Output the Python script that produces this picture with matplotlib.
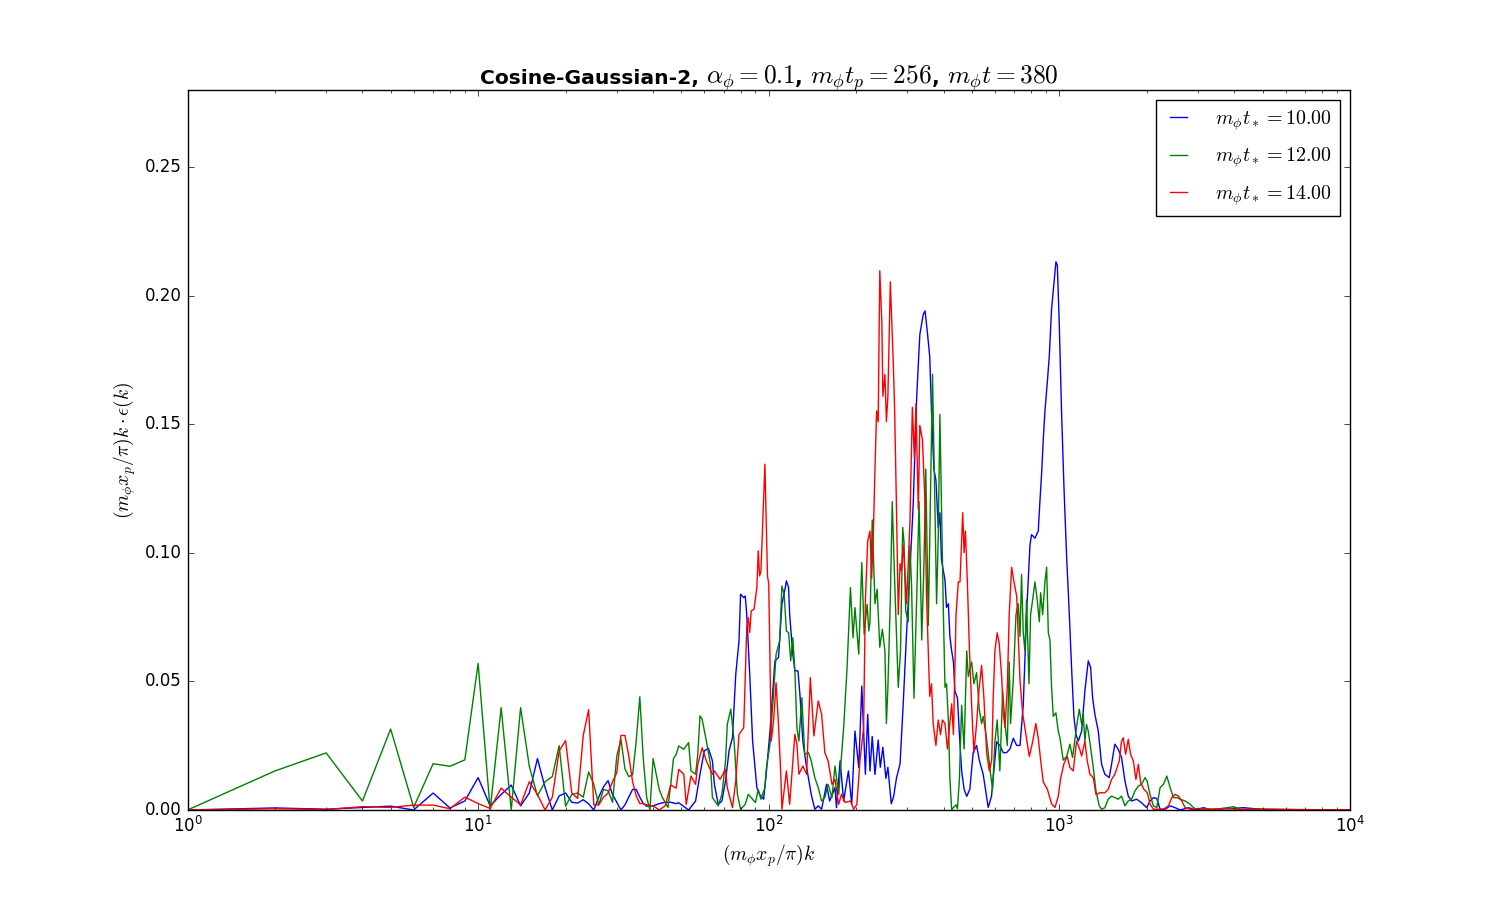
import matplotlib
matplotlib.use("Agg")
import matplotlib.pyplot as plt

plt.style.use('classic')

# ---------------- data ----------------
k_blue = [1, 2, 3, 4, 5, 6, 7, 8, 9, 10, 11, 12, 13, 14, 15, 16, 17, 18, 19, 20, 21, 22, 23, 24, 25,
          26, 27, 28, 29, 30, 31, 32, 33, 34, 35, 36, 37, 38, 40, 42, 44, 46, 48,
          49, 53, 56, 58, 60, 62, 64, 65, 67, 69, 71, 73, 75, 77, 79, 80, 82, 83, 84, 86, 88, 91, 93,
          96, 98, 101, 105, 108, 109, 111, 114, 115, 117, 118, 121, 123, 126, 128, 131, 135, 140, 144,
          148, 152, 158, 162, 169, 171, 176, 181, 188, 193, 198, 204, 209, 215, 219,
          223, 227, 232, 238, 242, 247, 253, 257, 264, 269, 275, 283, 290, 298, 306, 314, 323, 331, 340,
          345, 351, 358, 363, 370, 376, 383, 388, 393, 404, 409, 415, 420, 426, 432, 437, 446, 453, 461,
          470, 480,
          492, 505, 519, 530, 547, 559, 569, 584, 595, 608, 624, 641, 658, 676, 694, 713, 732, 751, 771,
          792, 802, 824, 846, 857, 869, 880, 892, 909, 923, 940, 958, 973, 984, 999, 1018, 1037, 1059,
          1082, 1102, 1122,
          1140, 1162, 1193, 1224, 1257, 1281, 1301, 1325, 1361, 1397, 1434, 1484, 1512, 1552, 1594, 1637,
          1681, 1726, 1772, 1844, 1919, 1997, 2051, 2106, 2163, 2221, 2311, 2405, 2502, 2604, 2782, 2934,
          3135, 3307, 4311, 5000, 7000, 10000]
v_blue = [0.0, 0.0008, 0.0003, 0.001, 0.0015, 0.0, 0.0066, 0.0008, 0.0035, 0.0126, 0.0016, 0.006, 0.0097,
          0.0016, 0.0066, 0.020, 0.0087, 0.0, 0.0055, 0.0066, 0.003, 0.0027, 0.004, 0.0024, 0.0,
          0.005, 0.009, 0.0114, 0.006, 0.003, 0.0, 0.002, 0.005, 0.008, 0.008, 0.005, 0.0025, 0.0015, 0.0016,
          0.0025, 0.003, 0.003, 0.0025,
          0.0028, 0.0, 0.0035, 0.0139, 0.0230, 0.0240, 0.0191, 0.0100, 0.0022, 0.0035, 0.0113, 0.0230, 0.0281,
          0.0528, 0.0657, 0.0839, 0.0826, 0.0832, 0.0761, 0.0528, 0.0268, 0.0087, 0.0061,
          0.0042, 0.0139, 0.0307, 0.0580, 0.0593, 0.0657, 0.0800, 0.0865, 0.0891, 0.0865, 0.0761, 0.0606, 0.0541,
          0.0541, 0.0450, 0.0268, 0.0165, 0.0061, 0.0003,
          0.0016, 0.0003, 0.0100, 0.0035, 0.0087, 0.0009, 0.0191, 0.0035, 0.0152, 0.0022, 0.0307, 0.0165, 0.0482,
          0.0139, 0.0372,
          0.0152, 0.0286, 0.0138, 0.0272, 0.0166, 0.0244, 0.0123, 0.0166, 0.0024, 0.0053, 0.0123, 0.0180, 0.0407,
          0.0689, 0.0930, 0.1185, 0.1609, 0.1849, 0.1927,
          0.1941, 0.1863, 0.1764, 0.1552, 0.1326, 0.1283, 0.1099, 0.1156, 0.0972, 0.0894, 0.0788, 0.0802, 0.0675,
          0.0619, 0.0576, 0.0463, 0.0435, 0.0293, 0.0152,
          0.0081, 0.0053,
          0.0081, 0.0223, 0.0251, 0.0194, 0.0138, 0.0067, 0.0010, 0.0053, 0.0152, 0.0265, 0.0251, 0.0223, 0.0223,
          0.0237, 0.0279, 0.0251, 0.0251, 0.0407, 0.0760,
          0.1029, 0.1071, 0.1057, 0.1085, 0.1199, 0.1312, 0.1439, 0.1552, 0.1665, 0.1764, 0.1948, 0.2047, 0.2132,
          0.2118, 0.1892, 0.1538, 0.1255, 0.0986,
          0.0760, 0.0548, 0.0364,
          0.0294, 0.0268, 0.0307, 0.0463, 0.0580, 0.0554, 0.0437, 0.0372, 0.0307, 0.0178, 0.0139, 0.0126, 0.0178,
          0.0256, 0.0236, 0.0204,
          0.0113, 0.0054, 0.0035, 0.0042, 0.0028, 0.0009, 0.0035, 0.0048, 0.0045, 0.0003, 0.0003, 0.0016, 0.0009,
          0.0, 0.0009, 0.0001,
          0.0009, 0.0001, 0.0009, 0.0002, 0.0001, 0.0]

k_green = [1, 2, 3, 4, 5, 6, 7, 8, 9, 10, 11, 12, 13, 14, 15, 16, 17, 18, 19, 20, 21, 22, 23, 24, 25,
           26, 27, 28, 29, 30, 31, 32, 33, 34, 35, 36, 37, 38, 39, 40, 41, 42, 43, 44, 45, 46, 47, 48,
           49, 51, 53, 54, 56, 57, 58, 59, 61, 63, 64, 67, 69, 71, 72, 74, 76, 78, 80, 83, 85, 87, 90,
           92, 94, 97, 98, 101, 104, 106, 109, 111, 113, 115, 117, 119, 121, 123, 125, 127, 130, 133,
           137, 140, 144, 148, 152, 156, 160, 165, 169, 174, 176, 181, 186, 191, 195, 198, 204, 209,
           213, 218, 221,
           223, 227, 232, 236, 241, 246, 251, 254, 257, 262, 266, 271, 279, 284, 289, 292, 296, 302, 306,
           310, 316, 323, 329, 336, 342, 347, 354, 358, 366, 373, 378, 383, 388, 393, 399, 404, 409, 415,
           420, 426, 432, 441, 446, 453, 461, 470, 480, 486,
           492, 499, 508, 519, 530, 540, 547, 559, 569, 580, 589, 600, 611, 624, 638, 650, 662, 672, 679,
           694, 709, 722, 732, 741, 751, 761, 771, 786, 796, 809, 824, 839, 853, 862, 876, 892, 904, 916,
           928, 940, 953, 973, 991, 1005, 1031, 1059,
           1087, 1110, 1129, 1149, 1171, 1193, 1208, 1224, 1240, 1257, 1281, 1308, 1336, 1372, 1397, 1434,
           1472, 1512, 1552, 1594, 1637, 1681, 1726, 1772, 1820, 1869, 1919, 1971, 2003, 2051, 2106, 2163,
           2221, 2281, 2342, 2405, 2469, 2536, 2604, 2709, 2819, 2895, 2973, 3135, 3500, 3982, 4199, 4790,
           6000, 8000, 10000]
v_green = [0.0, 0.0152, 0.0222, 0.0035, 0.0315, 0.001, 0.018, 0.017, 0.0195, 0.057, 0.0, 0.0398, 0.0,
           0.0398, 0.017, 0.0055, 0.011, 0.013, 0.025, 0.0015, 0.006, 0.0066, 0.005, 0.0148, 0.010,
           0.002, 0.008, 0.0075, 0.003, 0.021, 0.0275, 0.016, 0.013, 0.0137, 0.027, 0.044, 0.02, 0.005, 0.0,
           0.020, 0.014, 0.008, 0.005, 0.003, 0.001, 0.010, 0.020, 0.0215,
           0.0249, 0.0236, 0.0262, 0.0152, 0.0139, 0.0217, 0.0366, 0.0353, 0.0268, 0.0178, 0.0048, 0.0016,
           0.0061, 0.0191, 0.0333, 0.0392, 0.0268, 0.0061, 0.0003, 0.0022, 0.0061, 0.0048, 0.0029,
           0.0080, 0.0042, 0.0087, 0.0158, 0.0256, 0.0463, 0.0606, 0.0657, 0.0871, 0.0839, 0.0696, 0.0690,
           0.0580, 0.0670, 0.0541, 0.0320, 0.0268, 0.0437, 0.0217,
           0.0223, 0.0191, 0.0126, 0.0087, 0.0035, 0.0048, 0.0100, 0.0048, 0.0171, 0.0061, 0.0139, 0.0320,
           0.0554, 0.0865, 0.0670, 0.0787, 0.0606, 0.0962,
           0.0683, 0.0800, 0.0696,
           0.0732, 0.1128, 0.0802, 0.0859, 0.0633, 0.0703, 0.0619, 0.0336, 0.0477, 0.0817, 0.1199, 0.0901,
           0.0477, 0.0619, 0.1099, 0.1043, 0.0774, 0.0732, 0.1029,
           0.0873, 0.0435, 0.0831, 0.1199, 0.0661, 0.0958, 0.1326, 0.0718, 0.1043, 0.1694, 0.1185, 0.0802,
           0.1057, 0.1538, 0.1185, 0.0760, 0.0477, 0.0491, 0.0350,
           0.0123, 0.0, 0.001, 0.002, 0.0005, 0.0123, 0.0407, 0.0237, 0.0619, 0.0519,
           0.0548, 0.0576, 0.0491, 0.0534, 0.0392, 0.0336, 0.0364, 0.0293, 0.0223, 0.0138, 0.0081, 0.0265,
           0.0350, 0.0152, 0.0463, 0.0336, 0.0251, 0.0576, 0.0336,
           0.0505, 0.0760, 0.0802, 0.0675, 0.0916, 0.0689, 0.0619, 0.0817, 0.0491, 0.0760, 0.0817, 0.0887,
           0.0817, 0.0732, 0.0845, 0.0760, 0.0887, 0.0944, 0.0689,
           0.0661, 0.0477, 0.0364, 0.0378, 0.0307, 0.0279, 0.0194, 0.0208,
           0.0256, 0.0204, 0.0268, 0.0333, 0.0392, 0.0333, 0.0372, 0.0268, 0.0333, 0.0307, 0.0242, 0.0165,
           0.0074, 0.0016, 0.0003, 0.0009,
           0.0042, 0.0054, 0.0048, 0.0042, 0.0054, 0.0016, 0.0035, 0.0042, 0.0074, 0.0093, 0.0100, 0.0126,
           0.0113, 0.0061, 0.0016, 0.0009,
           0.0087, 0.0100, 0.0132, 0.0087, 0.0048, 0.0048, 0.0042, 0.0035, 0.0022, 0.0009, 0.0003, 0.0003,
           0.0003, 0.0013, 0.0001, 0.0004,
           0.0002, 0.0001, 0.0]

k_red = [1, 2, 3, 4, 5, 6, 7, 8, 9, 10, 11, 12, 13, 14, 15, 16, 17, 18, 19, 20, 21, 22, 23, 24, 25,
         26, 27, 28, 29, 30, 31, 32, 33, 34, 35, 36, 37, 38, 40, 42, 44, 46, 48,
         49, 51, 52, 54, 56, 57, 59, 61, 64, 65, 68, 71, 72, 75, 77, 79, 82, 84, 85, 86, 87, 89, 91,
         92, 93, 94, 97, 99, 100, 102, 104, 106, 108, 110, 111, 115, 118, 123, 125, 127, 131, 135, 139,
         143, 148, 152, 156, 160, 165, 169, 174, 178, 183, 191, 196, 201, 206, 212, 215, 219,
         223, 226, 229, 232, 235, 238, 241, 245, 247, 251, 254, 257, 262, 268, 271, 275, 279, 283, 286,
         290, 294, 298, 306, 312, 317, 321, 327, 331, 338, 345, 349, 354, 358, 363, 368, 376, 383, 390,
         396, 404, 412, 420, 426, 432, 441, 449, 455, 465, 470, 475, 482, 490, 499, 508,
         519, 530, 540, 550, 562, 574, 585, 592, 600, 611, 621, 633, 641, 650, 662, 672, 685, 698, 713,
         732, 747, 767, 788, 809, 830, 846, 862, 880, 909, 940, 966, 991, 1010, 1037, 1064,
         1087, 1116, 1146, 1171, 1193, 1224, 1247, 1274, 1308, 1336, 1379, 1434, 1472, 1512, 1552, 1607,
         1637, 1659, 1690, 1726, 1758, 1796, 1834, 1869, 1904, 1955, 2008, 2051, 2106, 2192, 2281, 2373,
         2437, 2502, 2569, 2638, 2709, 2819, 3053, 3307, 3677, 4089, 6000, 8000, 10000]
v_red = [0.0, 0.0005, 0.0002, 0.0013, 0.001, 0.0019, 0.0019, 0.0005, 0.005, 0.0025, 0.0006, 0.0085, 0.005,
         0.002, 0.011, 0.006, 0.0, 0.005, 0.023, 0.027, 0.0066, 0.0045, 0.029, 0.039, 0.002,
         0.002, 0.005, 0.0066, 0.011, 0.0145, 0.029, 0.029, 0.021, 0.011, 0.0055, 0.0025, 0.0025, 0.002, 0.0016,
         0.0, 0.0016, 0.0097, 0.0085,
         0.0158, 0.0139, 0.0022, 0.0132, 0.0100, 0.0178, 0.0242, 0.0191, 0.0139, 0.0152, 0.0119, 0.0158,
         0.0087, 0.0009, 0.0113, 0.0294, 0.0320, 0.0709, 0.0748, 0.0690, 0.0774, 0.0781, 0.0865,
         0.1008, 0.0910, 0.0930, 0.1345, 0.0910, 0.0878, 0.0268, 0.0353, 0.0495, 0.0333, 0.0139, 0.0003,
         0.0152, 0.0022, 0.0294, 0.0256, 0.0139, 0.0171, 0.0139, 0.0515,
         0.0288, 0.0424, 0.0372, 0.0223, 0.0191, 0.0100, 0.0119, 0.0022, 0.0061, 0.0029, 0.0035, 0.0003,
         0.0022, 0.0191, 0.0320, 0.0813, 0.1046,
         0.1085, 0.0901, 0.1071, 0.1326, 0.1552, 0.1510, 0.2097, 0.1892, 0.1609, 0.1694, 0.1510, 0.1609,
         0.2054, 0.1750, 0.1566, 0.1185, 0.0760, 0.0958, 0.0930,
         0.1029, 0.0930, 0.0802, 0.1114, 0.1566, 0.1368, 0.1580, 0.1170, 0.1496, 0.1439, 0.1185, 0.0831,
         0.0619, 0.0442, 0.0491, 0.0336, 0.0251, 0.0350, 0.0293,
         0.0350, 0.0336, 0.0237, 0.0336, 0.0413, 0.0293, 0.0760, 0.0887, 0.0887, 0.1156, 0.1001, 0.1085,
         0.0901, 0.0633, 0.0407, 0.0223,
         0.0336, 0.0477, 0.0562, 0.0435, 0.0223, 0.0152, 0.0194, 0.0435, 0.0619, 0.0689, 0.0647, 0.0519,
         0.0378, 0.0321, 0.0477, 0.0760, 0.0944, 0.0887, 0.0831,
         0.0505, 0.0378, 0.0293, 0.0208, 0.0265, 0.0336, 0.0279, 0.0194, 0.0109, 0.0081, 0.0024, 0.0010,
         0.0053, 0.0123, 0.0180, 0.0208,
         0.0165, 0.0152, 0.0268, 0.0242, 0.0210, 0.0268, 0.0191, 0.0139, 0.0126, 0.0061, 0.0067, 0.0067,
         0.0080, 0.0119, 0.0139, 0.0191,
         0.0268, 0.0281, 0.0217, 0.0275, 0.0217, 0.0191, 0.0119, 0.0178, 0.0106, 0.0080, 0.0067, 0.0022,
         0.0003, 0.0003, 0.0003, 0.0016,
         0.0048, 0.0061, 0.0054, 0.0035, 0.0009, 0.0003, 0.0005, 0.0003, 0.0006, 0.0003, 0.0002, 0.0001, 0.0]

series_labels = [r'$m_\phi t_*=10.00$', r'$m_\phi t_*=12.00$', r'$m_\phi t_*=14.00$']
series_colors = ['b', 'g', 'r']
title_parts = [('Cosine-Gaussian-2, ', False), (r'$\alpha_\phi=0.1$', True), (', ', False),
               (r'$m_\phi t_p=256$', True), (', ', False), (r'$m_\phi t=380$', True)]
x_label = r'$(m_\phi x_p/\pi)k$'
y_label = r'$(m_\phi x_p/\pi)k\cdot\epsilon(k)$'
y_ticks = [0.00, 0.05, 0.10, 0.15, 0.20, 0.25]

# ---------------- plot ----------------
fig = plt.figure(figsize=(15, 9), dpi=100, facecolor='white')
ax = fig.add_axes([0.125, 0.1, 0.775, 0.8])

for kk, vv, lab, col in zip([k_blue, k_green, k_red], [v_blue, v_green, v_red],
                            series_labels, series_colors):
    ax.plot(kk, vv, color=col, lw=1.0, label=lab)

ax.set_xscale('log')
ax.set_xlim(1, 1e4)
ax.set_ylim(0, 0.28)
ax.set_yticks(y_ticks)
ax.set_yticklabels(['%.2f' % t for t in y_ticks])
ax.set_xlabel(x_label, fontsize=14)
ax.set_ylabel(y_label, fontsize=14)
ax.legend(loc='upper right', fontsize=14.4, handlelength=1.45, handletextpad=1.1,
          labelspacing=0.65)

# title assembled from pieces (bold text + larger math)
renderer = fig.canvas.get_renderer()
pieces = []
for txt, is_math in title_parts:
    if is_math:
        t = fig.text(0, 0.9067, txt, fontsize=18.3, ha='left', va='baseline')
    else:
        t = fig.text(0, 0.9067, txt, fontsize=14.6, fontweight='bold', ha='left', va='baseline')
    pieces.append(t)
widths = [p.get_window_extent(renderer).width for p in pieces]
total = sum(widths)
fig_w = fig.get_figwidth() * fig.dpi
x0 = (0.125 + 0.775 / 2) * fig_w - total / 2
for p, w in zip(pieces, widths):
    p.set_x(x0 / fig_w)
    x0 += w

fig.savefig('out.png', dpi=100, facecolor='white')
